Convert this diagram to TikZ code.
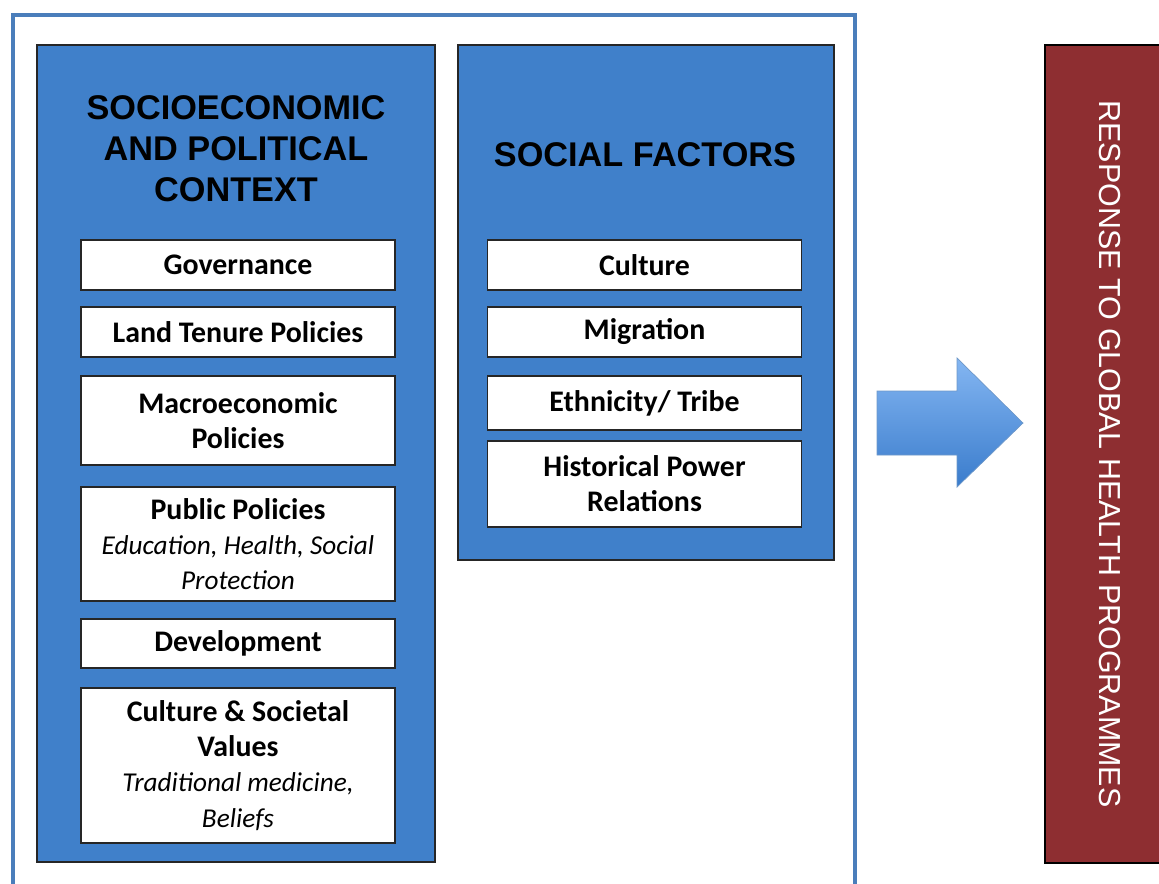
\documentclass[tikz,border=0pt]{standalone}
\usepackage{fontspec}
\setmainfont{Carlito}
\newfontfamily\arialfont{Liberation Sans}
\usetikzlibrary{positioning}
\definecolor{panelblue}{RGB}{64,128,202}
\definecolor{frameblue}{RGB}{74,126,187}
\definecolor{respred}{RGB}{142,46,49}
\definecolor{arrowtop}{RGB}{132,182,242}
\definecolor{arrowbot}{RGB}{58,124,204}
\newcommand{\subline}[1]{{\mdseries\itshape\fontsize{15.5}{18.5}\selectfont #1}}

\begin{document}
\begin{tikzpicture}[
    panel/.style={draw=black!85, line width=0.8pt, fill=panelblue},
    item/.style={draw=black!85, line width=0.8pt, fill=white, minimum width=6.28cm, inner sep=0pt, align=center, font=\bfseries\fontsize{17}{20}\selectfont},
    title/.style={align=center, font=\arialfont\bfseries\fontsize{19.5}{23.3}\selectfont}
]
    \clip (0,0) rectangle (23.18,-17.66);

    % outer frame, open at the bottom
    \coordinate (FL) at (0.26,-17.9);
    \coordinate (FR) at (17.1,-17.9);
    \draw[frameblue, line width=2pt] (FL) |- (17.1,-0.3) -- (FR);

    % the two blue panels
    \node[panel, minimum width=7.96cm, minimum height=16.34cm] (SEP) at (4.72,-9.07) {};
    \node[panel, minimum width=7.52cm, minimum height=10.3cm] (SF) at (12.92,-6.05) {};
    \node[title] (SEPtitle) at (4.72,-2.98) {SOCIOECONOMIC\\AND POLITICAL\\CONTEXT};
    \node[title] (SFtitle) at (12.9,-3.1) {SOCIAL FACTORS};

    % left column
    \node[item, minimum height=1cm] (gov) at (4.76,-5.3) {Governance};
    \node[item, minimum height=1cm] (land) at (4.76,-6.64) {Land Tenure Policies};
    \node[item, minimum height=1.78cm] (macro) at (4.76,-8.41) {Macroeconomic\\Policies};
    \node[item, minimum height=2.28cm] (pub) at (4.76,-10.88) {Public Policies\\\subline{Education, Health, Social}\\\subline{Protection}};
    \node[item, minimum height=0.98cm] (dev) at (4.76,-12.87) {Development};
    \node[item, minimum height=3.1cm] (values) at (4.76,-15.31) {Culture \& Societal\\Values\\\subline{Traditional medicine,}\\\subline{Beliefs}};

    % right column
    \node[item, minimum height=1cm] (cult) at (12.89,-5.3) {Culture};
    \node[item, minimum height=1cm] (migr) at (12.89,-6.64) {Migration};
    \node[item, minimum height=1.08cm] (eth) at (12.89,-8.06) {Ethnicity/ Tribe};
    \node[item, minimum height=1.72cm] (hist) at (12.89,-9.68) {Historical Power\\Relations};

    % block arrow
    \shadedraw[top color=arrowtop, bottom color=arrowbot, draw=frameblue!80, line width=0.4pt]
        (17.54,-7.82) -- (19.14,-7.82) -- (19.14,-7.16) -- (20.46,-8.46)
        -- (19.14,-9.74) -- (19.14,-9.1) -- (17.54,-9.1) -- cycle;

    % response bar
    \node[fill=respred, draw=black, line width=0.8pt, rotate=-90, minimum width=16.36cm, minimum height=2.6cm,
          text=white, font=\arialfont\fontsize{17.3}{20}\selectfont] (resp) at (22.2,-9.08) {RESPONSE TO GLOBAL HEALTH PROGRAMMES};
\end{tikzpicture}
\end{document}
